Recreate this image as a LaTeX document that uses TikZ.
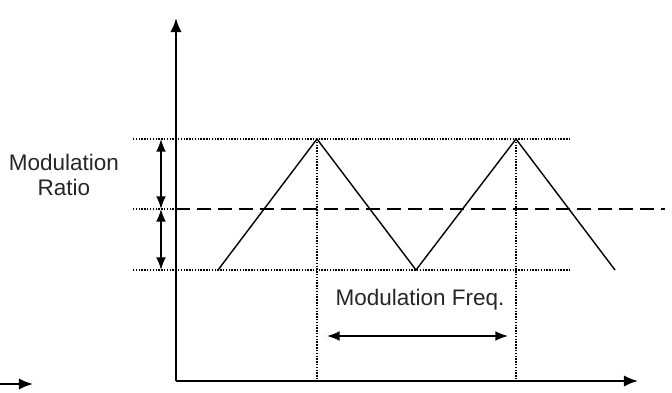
\documentclass[tikz,border=0pt]{standalone}
\usepackage{fontspec}
\setmainfont{Liberation Sans}
\usetikzlibrary{arrows.meta}

\begin{document}
\begin{tikzpicture}[x=0.025cm, y=-0.025cm,
    axis/.style={line width=1.4pt, -{Latex[length=10pt,width=8pt]}},
    guide/.style={densely dotted, line width=1pt},
    wave/.style={line width=1pt},
    span/.style={line width=1.2pt, {Latex[length=9pt,width=7pt]}-{Latex[length=9pt,width=7pt]}},
    label/.style={font=\fontsize{16}{19}\selectfont, align=center, text=black!85}]
    \useasboundingbox (0,0) rectangle (672,393);

    % axes
    \coordinate (origin) at (176,381);
    \coordinate (ytop) at (176,18);
    \coordinate (xend) at (638,381);
    \draw[axis] (origin) -- (ytop);
    \draw[axis] (origin) -- (xend);
    \coordinate (stubL) at (0,384);
    \coordinate (stubR) at (33,384);
    \draw[axis] (stubL) -- (stubR);

    % levels
    \coordinate (hiL) at (133,139);
    \coordinate (hiR) at (570,139);
    \coordinate (loL) at (133,270);
    \coordinate (loR) at (570,270);
    \coordinate (midL) at (133,209);
    \coordinate (midA) at (176,209);
    \coordinate (midR) at (665,209);
    \draw[guide] (hiL) -- (hiR);
    \draw[guide] (loL) -- (loR);
    \draw[guide] (midL) -- (midA);
    \draw[line width=1.3pt, dash pattern=on 10pt off 5pt] (midA) -- (midR);

    % triangle wave
    \coordinate (w0) at (218,270);
    \coordinate (w1) at (317,139);
    \coordinate (w2) at (416,270);
    \coordinate (w3) at (516,139);
    \coordinate (w4) at (615,270);
    \draw[wave] (w0) -- (w1) -- (w2) -- (w3) -- (w4);
    \coordinate (p1) at (317,381);
    \coordinate (p3) at (516,381);
    \draw[guide] (w1) -- (p1);
    \draw[guide] (w3) -- (p3);

    % modulation ratio
    \coordinate (rTop) at (161,139);
    \coordinate (rMid) at (161,209);
    \coordinate (rBot) at (161,270);
    \draw[span] (rTop) -- (rMid);
    \draw[span] (rMid) -- (rBot);
    \node[label] (ratio) at (64,175) {Modulation\\[-1pt]Ratio};

    % modulation frequency
    \node[label] (freq) at (420,300) {Modulation Freq.};
    \coordinate (fL) at (327,336);
    \coordinate (fR) at (508,336);
    \draw[span] (fL) -- (fR);
\end{tikzpicture}
\end{document}
